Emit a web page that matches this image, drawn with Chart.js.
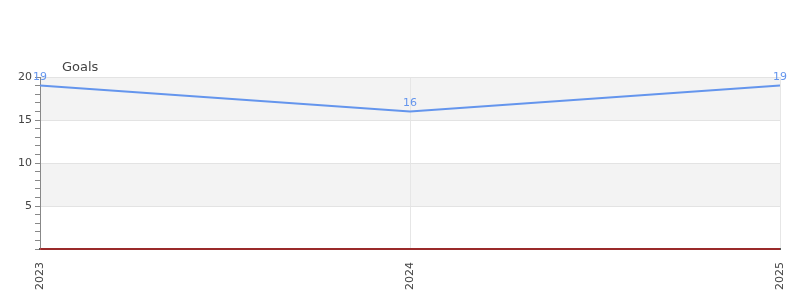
<!DOCTYPE html>
<html>
<head>
<meta charset="utf-8">
<script src="https://cdn.jsdelivr.net/npm/chart.js@4"></script>
<style>
  html, body { margin: 0; padding: 0; background: #fff; }
  #wrap { width: 800px; height: 300px; }
</style>
</head>
<body>
<div id="wrap"><canvas id="goalsChart"></canvas></div>
<script>
// data
var years = ['2023', '2024', '2025'];
var goals = [19, 16, 19];
var baseline = [0, 0, 0];
var bandEdges = [0, 5, 10, 15, 20];

// grey bands between every other pair of major grid lines
var bands = {
  id: 'bands',
  beforeDraw: function (chart) {
    var c = chart.ctx, a = chart.chartArea, y = chart.scales.y;
    c.save();
    c.fillStyle = '#f3f3f3';
    for (var i = 1; i < bandEdges.length - 1; i += 2) {
      var top = y.getPixelForValue(bandEdges[i + 1]);
      var bot = y.getPixelForValue(bandEdges[i]);
      c.fillRect(a.left, top, a.right - a.left, bot - top);
    }
    c.restore();
  }
};

// value labels over the blue line + the "Goals" caption
var labels = {
  id: 'labels',
  afterDatasetsDraw: function (chart) {
    var c = chart.ctx, a = chart.chartArea;
    var meta = chart.getDatasetMeta(0);
    c.save();
    c.font = '11px "DejaVu Sans"';
    c.fillStyle = '#6495ed';
    c.textAlign = 'center';
    c.textBaseline = 'middle';
    meta.data.forEach(function (pt, i) {
      c.fillText(goals[i], pt.x, pt.y - 8);
    });
    c.fillStyle = '#444';
    c.font = '13px "DejaVu Sans"';
    c.textAlign = 'left';
    c.fillText('Goals', a.left + 22, a.top - 9);
    c.restore();
  }
};

var ctx = document.getElementById('goalsChart').getContext('2d');
var chart = new Chart(ctx, {
  type: 'line',
  data: {
    labels: years,
    datasets: [
      {
        label: 'Goals',
        data: goals,
        borderColor: '#6495ed',
        borderWidth: 2,
        pointRadius: 0,
        tension: 0,
        clip: false
      },
      {
        label: 'Baseline',
        data: baseline,
        borderColor: '#e00000',
        borderWidth: 1,
        pointRadius: 0,
        clip: false
      }
    ]
  },
  options: {
    responsive: true,
    maintainAspectRatio: false,
    animation: false,
    layout: { padding: { top: 77, right: 20, left: 0, bottom: 0 } },
    plugins: {
      legend: { display: false },
      title: { display: false },
      tooltip: { enabled: false }
    },
    scales: {
      x: {
        offset: false,
        afterFit: function (s) {
          s.height = 51;
          s.paddingLeft = 0;
          s.paddingRight = 0;
        },
        grid: { color: '#e6e6e6', drawTicks: false },
        border: { color: '#555', width: 2 },
        ticks: {
          minRotation: 90,
          maxRotation: 90,
          padding: 13,
          color: '#444',
          font: { family: 'DejaVu Sans', size: 11 }
        }
      },
      y: {
        min: 0,
        max: 20,
        afterFit: function (s) { s.width = 40; },
        border: { color: '#888' },
        grid: {
          color: function (c) {
            var v = c.tick.value;
            return (v % 5 === 0 && v > 0) ? '#e3e3e3' : 'transparent';
          },
          tickColor: '#888',
          tickLength: 5
        },
        ticks: {
          stepSize: 1,
          autoSkip: false,
          padding: 3,
          color: '#444',
          font: { family: 'DejaVu Sans', size: 11 },
          callback: function (v) { return (v % 5 === 0 && v > 0) ? v : ''; }
        }
      }
    }
  },
  plugins: [bands, labels]
});
</script>
</body>
</html>
